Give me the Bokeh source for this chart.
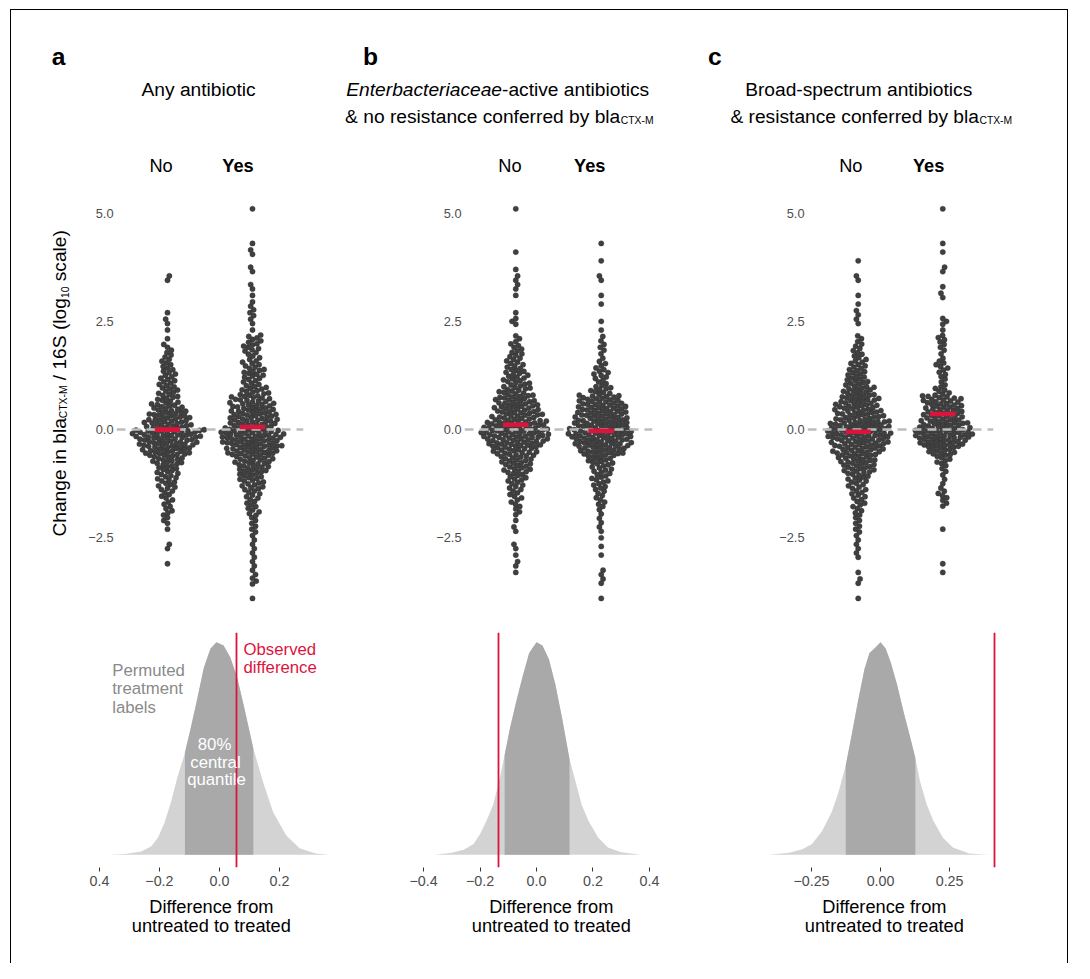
import math
import numpy as np
from bokeh.plotting import figure
from bokeh.models import Range1d, FixedTicker, Label, Spacer
from bokeh.layouts import row, column
from bokeh.core.properties import value
from bokeh.embed import file_html
from bokeh.resources import INLINE

FONT = "Liberation Sans"
CRIMSON = "#DC143C"
DOT = "#404040"
LIGHT = "#d3d3d3"
DARK = "#a9a9a9"
TICK_TXT = "#4d4d4d"

# ------------------------------------------------------------------ data
# swarm: number of samples per 0.2-wide bin of log10 change (bin lower edges)
bin_lo = [round(-4.2 + 0.2 * i, 1) for i in range(48)]

a_no = [0, 0, 0, 0, 0, 1, 0, 2,
        0, 1, 3, 4, 4, 5, 7, 8,
        9, 13, 20, 23, 27, 19, 17, 13,
        9, 8, 7, 6, 5, 4, 3, 1,
        1, 2, 1, 0, 0, 0, 2, 0,
        0, 0, 0, 0, 0, 0, 0, 0]
a_yes = [0, 1, 0, 3, 2, 2, 2, 2,
         2, 3, 3, 5, 5, 6, 9, 10,
         13, 15, 21, 24, 25, 19, 19, 17,
         15, 11, 7, 9, 7, 5, 7, 6,
         1, 2, 3, 2, 1, 2, 0, 2,
         0, 2, 1, 0, 0, 0, 1, 0]
b_no = [0, 0, 0, 0, 1, 2, 1, 2,
        0, 2, 1, 3, 4, 5, 6, 8,
        11, 13, 17, 23, 27, 25, 19, 18,
        16, 12, 10, 9, 7, 6, 5, 3,
        0, 3, 1, 0, 1, 2, 2, 1,
        0, 1, 0, 0, 0, 0, 1, 0]
b_yes = [0, 1, 0, 2, 2, 0, 1, 1,
         1, 2, 2, 2, 4, 4, 6, 7,
         8, 11, 19, 23, 26, 23, 21, 20,
         17, 9, 5, 6, 4, 2, 3, 2,
         1, 1, 0, 1, 1, 0, 2, 0,
         1, 0, 1, 0, 0, 0, 0, 0]
c_no = [0, 1, 0, 2, 1, 0, 2, 2,
        2, 3, 3, 4, 5, 6, 7, 9,
        13, 15, 19, 22, 26, 25, 19, 18,
        16, 13, 10, 8, 7, 5, 4, 3,
        0, 2, 2, 1, 1, 0, 2, 0,
        1, 0, 0, 0, 0, 0, 0, 0]
c_yes = [0, 0, 0, 0, 1, 1, 0, 0,
         0, 1, 0, 0, 3, 4, 2, 2,
         3, 6, 12, 20, 24, 20, 16, 15,
         15, 6, 3, 4, 5, 2, 3, 4,
         1, 3, 0, 0, 2, 1, 0, 2,
         0, 1, 1, 0, 0, 0, 1, 0]

group_labels = ["No", "Yes"]
mean_a = [0.00, 0.06]
mean_b = [0.11, -0.03]
mean_c = [-0.05, 0.36]

# permutation null distributions (relative density) and observed differences
dens_a_x = [-0.370, -0.315, -0.260, -0.227, -0.205, -0.183, -0.161, -0.139, -0.117,
            -0.095, -0.073, -0.052, -0.030, -0.010, 0.014, 0.036, 0.058, 0.080,
            0.113, 0.146, 0.179, 0.223, 0.267, 0.321, 0.365]
dens_a_h = [0.0, 0.003, 0.015, 0.04, 0.08, 0.15, 0.25, 0.37, 0.47,
            0.60, 0.74, 0.88, 0.97, 1.0, 0.985, 0.93, 0.84, 0.71,
            0.50, 0.34, 0.20, 0.09, 0.03, 0.006, 0.0]
dens_b_x = [-0.363, -0.305, -0.258, -0.223, -0.200, -0.177, -0.153, -0.130, -0.113,
            -0.095, -0.072, -0.049, -0.026, 0.0, 0.021, 0.044, 0.067, 0.091,
            0.117, 0.137, 0.160, 0.184, 0.219, 0.253, 0.300, 0.370]
dens_b_h = [0.0, 0.008, 0.023, 0.05, 0.097, 0.16, 0.237, 0.36, 0.47,
            0.59, 0.72, 0.84, 0.95, 1.0, 0.985, 0.92, 0.80, 0.64,
            0.45, 0.35, 0.235, 0.16, 0.08, 0.034, 0.011, 0.0]
dens_c_x = [-0.402, -0.331, -0.283, -0.248, -0.212, -0.177, -0.153, -0.126, -0.105,
            -0.082, -0.058, -0.040, -0.023, 0.0, 0.019, 0.037, 0.060, 0.084,
            0.108, 0.126, 0.143, 0.167, 0.191, 0.226, 0.262, 0.321, 0.392]
dens_c_h = [0.0, 0.009, 0.026, 0.05, 0.11, 0.20, 0.29, 0.42, 0.56,
            0.72, 0.875, 0.95, 0.97, 1.0, 0.97, 0.905, 0.80, 0.67,
            0.55, 0.455, 0.346, 0.237, 0.16, 0.08, 0.034, 0.006, 0.0]
q80_a = [-0.115, 0.113]
q80_b = [-0.113, 0.117]
q80_c = [-0.126, 0.126]
obs_a = 0.056
obs_b = -0.133
obs_c = 0.412

swarm_ticks = [-2.5, 0.0, 2.5, 5.0]
swarm_tick_labels = ["\u22122.5", "0.0", "2.5", "5.0"]
dens_a_ticks = [-0.4, -0.2, 0.0, 0.2]
dens_a_labels = ["0.4", "\u22120.2", "0.0", "0.2"]
dens_b_ticks = [-0.4, -0.2, 0.0, 0.2, 0.4]
dens_b_labels = ["\u22120.4", "\u22120.2", "0.0", "0.2", "0.4"]
dens_c_ticks = [-0.25, 0.0, 0.25]
dens_c_labels = ["\u22120.25", "0.00", "0.25"]

# ------------------------------------------------------------------ geometry
# reference picture coordinates (1090x979) -> page layout (1074x963)
SX = 1074 / 1090
SY = 963 / 979
INNER_W, INNER_H = 1056, 953
DESC = 0.212  # font descent / em


def hx(X):
    return X * SX - 11


def vy(Y):
    return Y * SY - 10


def fs(size):
    return f"{size * SX:.2f}px"


ARIAL = {' ': 278, '(': 333, ')': 333, '-': 333, '/': 278, '0': 556, '1': 556, '6': 556,
         'C': 722, 'M': 833, 'S': 667, 'T': 611, 'X': 667, 'a': 556, 'b': 556, 'c': 500,
         'e': 556, 'g': 556, 'h': 556, 'i': 222, 'l': 222, 'n': 556, 'o': 556, 's': 500}


def tw(s, size):
    return sum(ARIAL.get(ch, 556) for ch in s) * size / 1000.0


class Geo:
    """Figure box given in page-layout pixels, frame given in reference pixels."""

    def __init__(self, x0, x1, y0, y1, FX, FY, xr, yr):
        self.x0, self.x1, self.y0, self.y1 = x0, x1, y0, y1
        self.FX, self.FY, self.xr, self.yr = FX, FY, xr, yr
        f0, f1 = round(hx(FX[0])), round(hx(FX[1]))
        g0, g1 = round(vy(FY[0])), round(vy(FY[1]))
        self.W, self.H = x1 - x0, y1 - y0
        self.fl, self.fw = f0 - x0, f1 - f0
        self.ft, self.fh = g0 - y0, g1 - g0

    def x(self, X):
        return self.xr[0] + (X - self.FX[0]) / (self.FX[1] - self.FX[0]) * (self.xr[1] - self.xr[0])

    def y(self, Y):
        return self.yr[1] - (Y - self.FY[0]) / (self.FY[1] - self.FY[0]) * (self.yr[1] - self.yr[0])


def make_fig(g, xloc, yloc):
    p = figure(width=g.W, height=g.H, x_range=Range1d(*g.xr), y_range=Range1d(*g.yr),
               min_border_left=g.fl, min_border_right=g.W - g.fl - g.fw,
               min_border_top=g.ft, min_border_bottom=g.H - g.ft - g.fh,
               x_axis_location=xloc, y_axis_location=yloc,
               toolbar_location=None, output_backend="svg",
               outline_line_color=None, background_fill_color="white",
               border_fill_color="white")
    p.grid.visible = False
    return p


class TextFig:
    def __init__(self, x0, y0, W, H):
        self.x0, self.y0, self.W, self.H = x0, y0, W, H
        self.p = figure(width=W, height=H, x_range=Range1d(0, W), y_range=Range1d(0, H),
                        min_border=0, toolbar_location=None, output_backend="svg",
                        outline_line_color=None, x_axis_location=None, y_axis_location=None,
                        background_fill_color="white", border_fill_color="white")
        self.p.grid.visible = False

    def put(self, X, Y, text, size, align="left", style="normal", color="black", angle=0.0):
        # (X, Y) is the text baseline in reference pixels; anchor at the text box bottom
        off = DESC * size
        Xb = X + off * math.sin(angle)
        Yb = Y + off * math.cos(angle)
        self.p.text(x=[hx(Xb) - self.x0], y=[self.H - (vy(Yb) - self.y0)], text=[text],
                    text_font=value(FONT), text_font_size=fs(size), text_align=align,
                    text_baseline="bottom", text_font_style=style, text_color=color,
                    angle=angle)


def lab(p, g, X, Y, text, size, align="left", style="normal", color="black"):
    p.add_layout(Label(x=g.x(X), y=g.y(Y), text=text, text_font=FONT,
                       text_font_size=fs(size), text_align=align,
                       text_baseline="alphabetic", text_font_style=style,
                       text_color=color))


def beeswarm(counts, pxu_y, d):
    ys = []
    for lo, n in zip(bin_lo, counts):
        for k in range(n):
            ys.append(lo + (k + 0.5) * 0.2 / n)
    ys.sort()
    placed = []
    xs = []
    for i, yv in enumerate(ys):
        yp = yv * pxu_y
        near = [(px, py) for px, py in placed if abs(py - yp) < d]
        cands = [0.0]
        for px, py in near:
            h = math.sqrt(max(d * d - (py - yp) ** 2, 0.0))
            cands += [px - h, px + h]
        cands.sort(key=lambda c: (round(abs(c), 6), c if i % 2 else -c))
        chosen = 0.0
        for c in cands:
            if all((c - px) ** 2 + (py - yp) ** 2 >= d * d - 1e-6 for px, py in near):
                chosen = c
                break
        placed.append((chosen, yp))
        xs.append(chosen)
    return xs, ys


SW_XR = (0.4, 2.6)
SW_FY = (195, 625)
SW_YR = ((436 - SW_FY[1]) / 44.0, (436 - SW_FY[0]) / 44.0)
COLLIDE = 4.7


def swarm_panel(g, no_counts, yes_counts, means):
    p = make_fig(g, None, "left")
    pxu_x = g.fw / (SW_XR[1] - SW_XR[0])
    pxu_y = g.fh / (SW_YR[1] - SW_YR[0])
    for cx, cnt in zip([1, 2], [no_counts, yes_counts]):
        xs, ys = beeswarm(cnt, pxu_y, COLLIDE)
        p.scatter([cx + v / pxu_x for v in xs], ys, size=5.3, fill_color=DOT,
                  line_color="#2e2e2e", line_width=0.4)
    p.hspan(y=[0.0], line_color="#bdbdbd", line_width=2.6, line_dash="9 6")
    p.segment(x0=[1 - 0.15, 2 - 0.15], x1=[1 + 0.15, 2 + 0.15], y0=means, y1=means,
              line_color=CRIMSON, line_width=4.6, line_cap="butt")
    ax = p.yaxis[0]
    ax.ticker = FixedTicker(ticks=swarm_ticks, minor_ticks=[])
    ax.major_label_overrides = dict(zip(swarm_ticks, swarm_tick_labels))
    ax.axis_line_color = None
    ax.major_tick_line_color = None
    ax.minor_tick_line_color = None
    ax.major_tick_out = 0
    ax.major_tick_in = 0
    ax.major_label_standoff = 3
    ax.major_label_text_font = FONT
    ax.major_label_text_font_size = fs(13)
    ax.major_label_text_color = TICK_TXT
    return p


def dens_panel(g, xs, hs, q, obs, ticks, labels):
    p = make_fig(g, "below", None)
    p.varea(x=xs, y1=0, y2=hs, fill_color=LIGHT)
    xq = [q[0]] + [v for v in xs if q[0] < v < q[1]] + [q[1]]
    hq = list(np.interp(xq, xs, hs))
    p.varea(x=xq, y1=0, y2=hq, fill_color=DARK)
    ax = p.xaxis[0]
    ax.ticker = FixedTicker(ticks=ticks, minor_ticks=[])
    ax.major_label_overrides = dict(zip(ticks, labels))
    ax.axis_line_color = None
    ax.minor_tick_line_color = None
    ax.major_tick_line_color = "#333333"
    ax.major_tick_line_width = 1
    ax.major_tick_out = 4
    ax.major_tick_in = 0
    ax.major_label_standoff = 4
    ax.major_label_text_font = FONT
    ax.major_label_text_font_size = fs(14.5)
    ax.major_label_text_color = TICK_TXT
    return p


# vertical bands (page-layout pixels inside the bordered box)
HDR_B = round(vy(195))
SW_B = round(vy(625))
DN_B = round(vy(912))

# horizontal splits
YT_R = round(hx(80))
SA_R = round(hx(345))
SB_R = round(hx(700))
DA_R = round(hx(360))
DB_R = round(hx(710))

# ------------------------------------------------------------------ header
hdr = TextFig(0, 0, INNER_W, HDR_B)
TS = 19.5
SUB = 10.5
hdr.put(52, 65, "a", 25, style="bold")
hdr.put(368, 65, "b", 25, style="bold")
hdr.put(718, 65, "c", 25, style="bold")
hdr.put(201, 97, "Any antibiotic", TS, align="center")
hdr.put(509, 97, "Enterbacteriaceae", TS, align="right", style="italic")
hdr.put(509, 97, "-active antibiotics", TS, align="left")
hdr.put(629, 124, "& no resistance conferred by bla", TS, align="right")
hdr.put(629.5, 125, "CTX-M", SUB, align="left")
hdr.put(871, 97, "Broad-spectrum antibiotics", TS, align="center")
hdr.put(993, 124, "& resistance conferred by bla", TS, align="right")
hdr.put(993.5, 125, "CTX-M", SUB, align="left")
for xn, xy in [(163, 241), (517, 598), (863, 942)]:
    hdr.put(xn, 174, group_labels[0], 18.5, align="center")
    hdr.put(xy, 174, group_labels[1], 18.5, align="center", style="bold")

# ------------------------------------------------------------------ y-axis title
ytf = TextFig(0, HDR_B, YT_R, SW_B - HDR_B)
segs = [("Change in bla", 19.5, 0), ("CTX-M", SUB, 1), (" / 16S (log", 19.5, 0),
        ("10", SUB, 1), (" scale)", 19.5, 0)]
Ypos = 545.0
for s, fsz, drop in segs:
    lead = len(s) - len(s.lstrip(" "))
    ytf.put(66 + drop, Ypos - tw(s[:lead], fsz), s.strip(" "), fsz, angle=math.pi / 2)
    Ypos -= tw(s, fsz)

# ------------------------------------------------------------------ swarms
ga = Geo(YT_R, SA_R, HDR_B, SW_B, (118, 307.6), SW_FY, SW_XR, SW_YR)
gb = Geo(SA_R, SB_R, HDR_B, SW_B, (471, 662), SW_FY, SW_XR, SW_YR)
gc = Geo(SB_R, INNER_W, HDR_B, SW_B, (819, 1008), SW_FY, SW_XR, SW_YR)
sa = swarm_panel(ga, a_no, a_yes, mean_a)
sb = swarm_panel(gb, b_no, b_yes, mean_b)
sc = swarm_panel(gc, c_no, c_yes, mean_c)

# ------------------------------------------------------------------ densities
D_FY = (643, 881)
DY = (-(881 - 868) / 215.0, (868 - 643) / 215.0)


def drange(X0, X1, zero_px, px_per_unit):
    return ((X0 - zero_px) / px_per_unit, (X1 - zero_px) / px_per_unit)


gda = Geo(0, DA_R, SW_B, DN_B, (95, 340), D_FY, drange(95, 340, 222, 305), DY)
gdb = Geo(DA_R, DB_R, SW_B, DN_B, (425, 665), D_FY, drange(425, 665, 544, 287), DY)
gdc = Geo(DB_R, INNER_W, SW_B, DN_B, (775, 1015), D_FY, drange(775, 1015, 893, 281), DY)

da = dens_panel(gda, dens_a_x, dens_a_h, q80_a, obs_a, dens_a_ticks, dens_a_labels)
db = dens_panel(gdb, dens_b_x, dens_b_h, q80_b, obs_b, dens_b_ticks, dens_b_labels)
dc = dens_panel(gdc, dens_c_x, dens_c_h, q80_c, obs_c, dens_c_ticks, dens_c_labels)

DS = 17
lab(da, gda, 113, 681.5, "Permuted", DS, color="#8a8a8a")
lab(da, gda, 113, 700, "treatment", DS, color="#8a8a8a")
lab(da, gda, 113, 718.5, "labels", DS, color="#8a8a8a")
lab(da, gda, 217, 756, "80%", DS, align="center", color="white")
lab(da, gda, 218, 774.5, "central", DS, align="center", color="white")
lab(da, gda, 219, 792, "quantile", DS, align="center", color="white")
lab(da, gda, 246.5, 660, "Observed", DS, color=CRIMSON)
lab(da, gda, 246.5, 678, "difference", DS, color=CRIMSON)

for p, o in [(da, obs_a), (db, obs_b), (dc, obs_c)]:
    p.vspan(x=[o], line_color=CRIMSON, line_width=1.8)

# ------------------------------------------------------------------ footer (x-axis titles)
ftr = TextFig(0, DN_B, INNER_W, INNER_H - DN_B)
for xc in [214, 559, 897]:
    ftr.put(xc, 928, "Difference from", 18.5, align="center")
    ftr.put(xc, 947, "untreated to treated", 18.5, align="center")

inner = column(hdr.p, row(ytf.p, sa, sb, sc), row(da, db, dc), ftr.p,
               styles={"border-top": "1px solid black",
                       "border-left": "1px solid black",
                       "border-right": "1px solid black"})
page = column(Spacer(width=1074, height=9),
              row(Spacer(width=10, height=INNER_H + 1), inner, Spacer(width=6, height=INNER_H + 1)))

open("out.html", "w").write(file_html(page, INLINE, title="blaCTX-M change"))
